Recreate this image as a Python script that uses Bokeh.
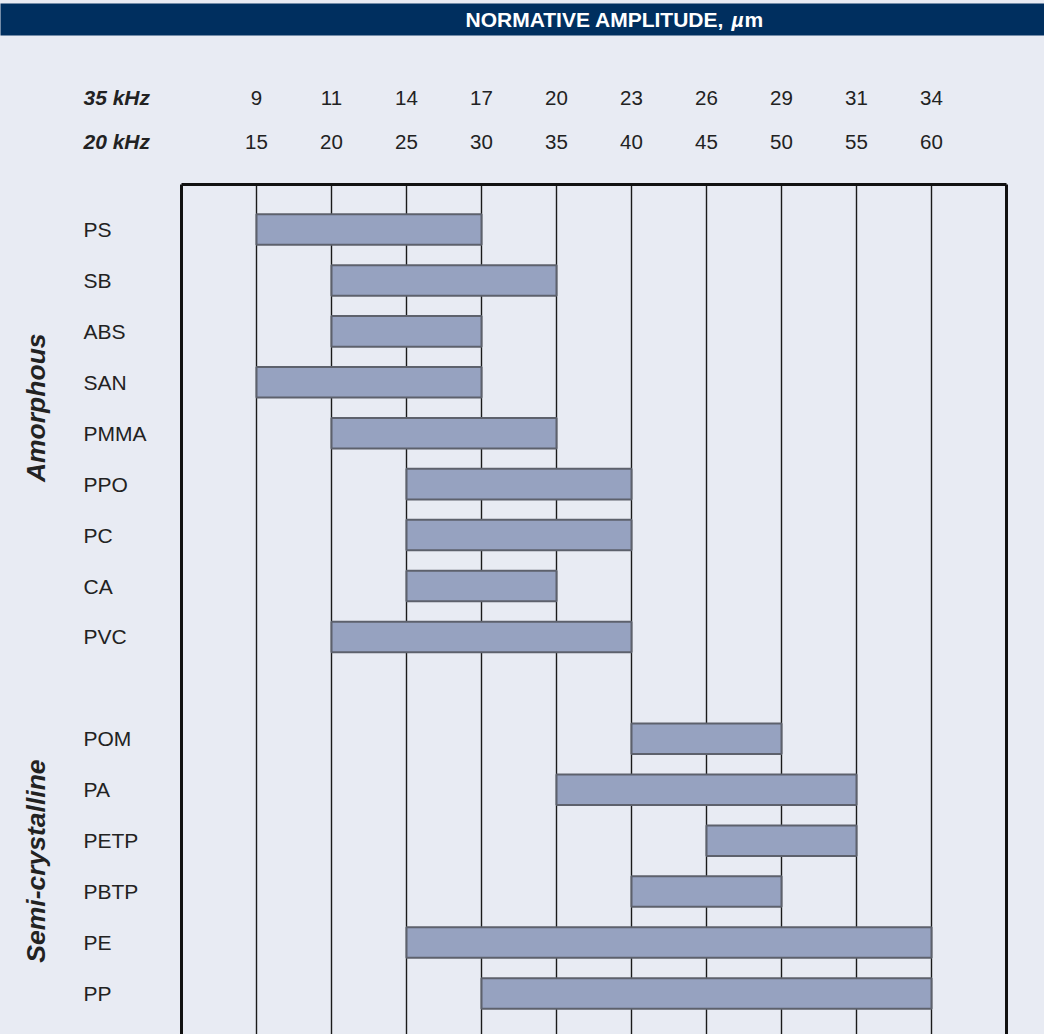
from bokeh.plotting import figure
from bokeh.models import Range1d, ColumnDataSource
from bokeh.core.properties import value
from bokeh.embed import file_html
from bokeh.resources import INLINE
import math

# ---------------- data ----------------
materials = ["PS", "SB", "ABS", "SAN", "PMMA", "PPO", "PC", "CA", "PVC",
             "POM", "PA", "PETP", "PBTP", "PE", "PP"]
row_index = [0, 1, 2, 3, 4, 5, 6, 7, 8, 10, 11, 12, 13, 14, 15]
amp_start_20khz = [15, 20, 20, 15, 20, 25, 25, 25, 20, 40, 35, 45, 40, 25, 30]
amp_end_20khz = [30, 35, 30, 30, 35, 40, 40, 35, 40, 50, 55, 55, 50, 60, 60]
ticks_20khz = [15, 20, 25, 30, 35, 40, 45, 50, 55, 60]
labels_20khz = ["15", "20", "25", "30", "35", "40", "45", "50", "55", "60"]
labels_35khz = ["9", "11", "14", "17", "20", "23", "26", "29", "31", "34"]
groups = ["Amorphous", "Semi-crystalline"]
group_center_row = [3.5, 12.4]
box_left, box_right = 10, 65

# ---------------- layout helpers ----------------
W, H = 1044, 1034
PX0, PXU = 256, 15.0      # pixel x of value 15, px per unit
PY0, PYU = 229, 50.93     # pixel y of row 0, px per row


def vx(px):
    return 15 + (px - PX0) / PXU


def ry(py):
    return (py - PY0) / PYU


BG = "#e8ebf3"
NAVY = "#002f5f"
BAR = "#96a2c0"
TXT = "#222222"
FONT = value("Liberation Sans")

p = figure(width=W, height=H, output_backend="svg", toolbar_location=None,
           x_range=Range1d(vx(0), vx(W)), y_range=Range1d(ry(H), ry(0)),
           min_border=0, background_fill_color=BG, border_fill_color=BG)
p.axis.visible = False
p.grid.visible = False
p.outline_line_color = None

# header band
p.quad(left=[vx(-10)], right=[vx(W + 10)], top=[ry(3)], bottom=[ry(35)],
       fill_color=NAVY, line_color=None)
p.text(x=[vx(465)], y=[ry(19)], text=["NORMATIVE AMPLITUDE,"], text_color="white",
       text_font=FONT, text_font_size="21px", text_font_style="bold",
       text_align="left", text_baseline="middle")
p.text(x=[vx(731)], y=[ry(19)], text=["\u00b5"], text_color="white",
       text_font=FONT, text_font_size="21px", text_font_style="bold italic",
       text_align="left", text_baseline="middle")
p.text(x=[vx(744)], y=[ry(19)], text=["m"], text_color="white",
       text_font=FONT, text_font_size="21px", text_font_style="bold",
       text_align="left", text_baseline="middle")

# frequency scale labels
p.text(x=[vx(83), vx(83)], y=[ry(97), ry(141)], text=["35 kHz", "20 kHz"],
       text_color=TXT, text_font=FONT, text_font_size="21px",
       text_font_style="bold italic", text_align="left", text_baseline="middle")
p.text(x=ticks_20khz, y=[ry(97)] * len(ticks_20khz), text=labels_35khz,
       text_color=TXT, text_font=FONT, text_font_size="20.5px",
       text_align="center", text_baseline="middle")
p.text(x=ticks_20khz, y=[ry(141)] * len(ticks_20khz), text=labels_20khz,
       text_color=TXT, text_font=FONT, text_font_size="20.5px",
       text_align="center", text_baseline="middle")

# grid lines inside box
top_y = ry(184)
bot_y = ry(H + 20)
p.segment(x0=ticks_20khz, x1=ticks_20khz, y0=[top_y] * len(ticks_20khz),
          y1=[bot_y] * len(ticks_20khz), line_color="#1a1a1a", line_width=1.4)

# bars
src = ColumnDataSource(dict(mat=materials, row=row_index,
                            s=amp_start_20khz, e=amp_end_20khz))
p.hbar(y="row", left="s", right="e", height=0.6, source=src,
       fill_color=BAR, line_color="#5d616c", line_width=2)

# box border
p.segment(x0=[box_left, box_right, box_left], x1=[box_left, box_right, box_right],
          y0=[top_y, top_y, top_y], y1=[bot_y, bot_y, top_y],
          line_color="#111111", line_width=3)

# material labels
p.text(x=[vx(83)] * len(materials), y=row_index, text=materials,
       text_color=TXT, text_font=FONT, text_font_size="21px",
       text_align="left", text_baseline="middle")

# group labels
p.text(x=[vx(35)] * len(groups), y=group_center_row, text=groups,
       text_color=TXT, text_font=FONT, text_font_size="26.5px",
       text_font_style="bold italic", angle=math.pi / 2,
       text_align="center", text_baseline="middle")

html = file_html(p, INLINE)
html = html.replace("</head>",
                    "<style>html,body{margin:0;padding:0;background:%s;overflow:hidden}</style></head>" % BG, 1)
open("out.html", "w").write(html)
